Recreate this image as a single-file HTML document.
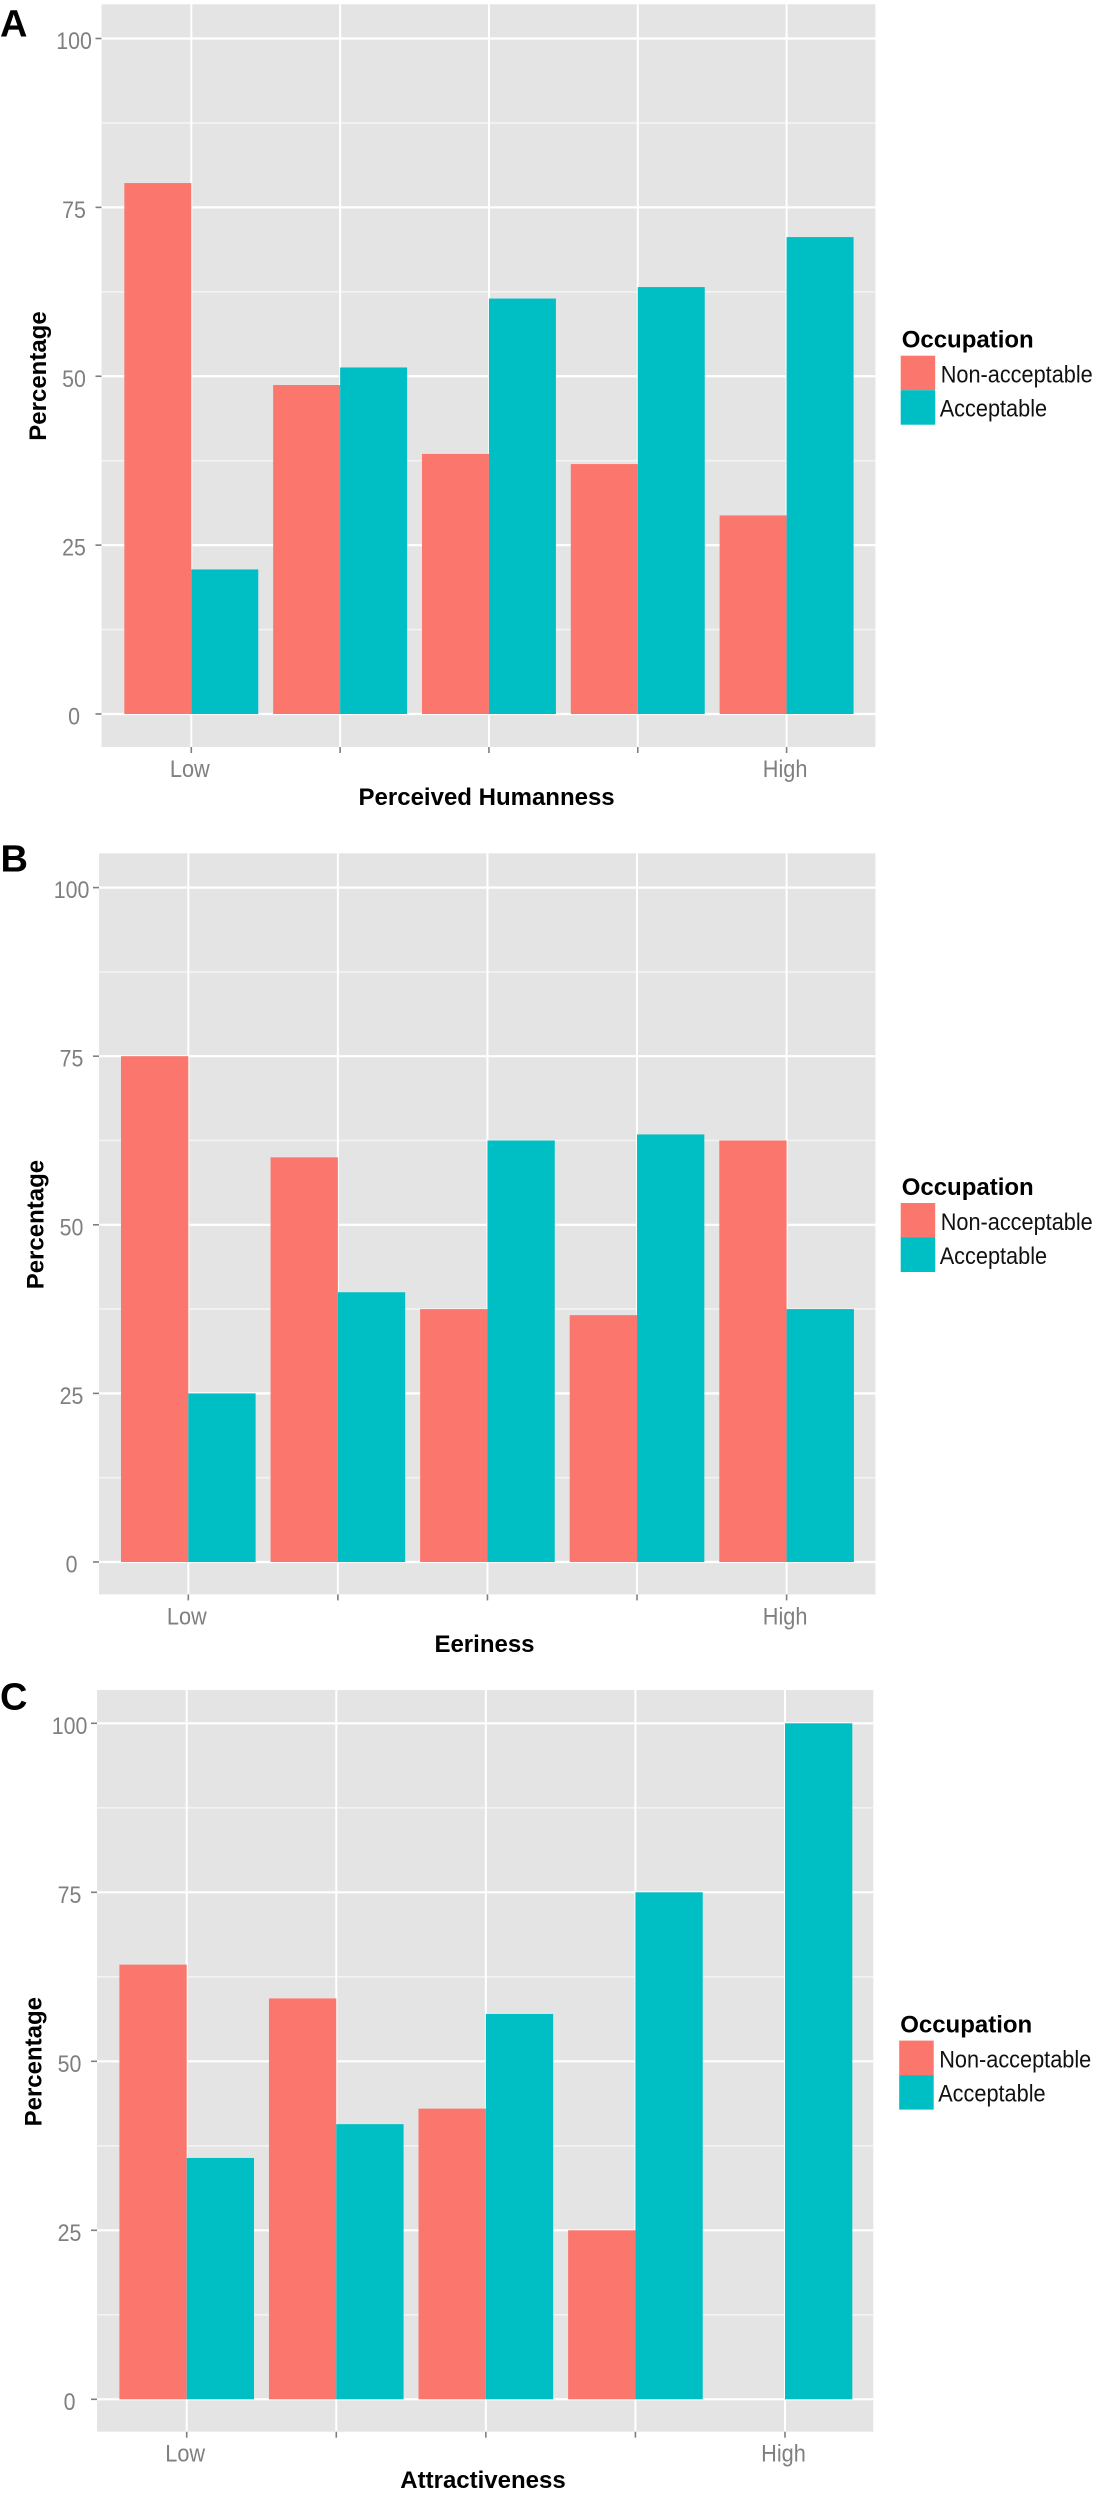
<!DOCTYPE html>
<html lang="en">
<head>
<meta charset="utf-8">
<title>Occupation acceptability charts</title>
<style>
html,body{margin:0;padding:0;background:#fff;}
#figure{display:block;width:1104px;height:2500px;font-family:"Liberation Sans",Arial,sans-serif;}
</style>
</head>
<body>
<svg id="figure" xmlns="http://www.w3.org/2000/svg" width="1104" height="2500" viewBox="0 0 1104 2500"></svg>
<script>
// ---- chart data ----
const categories = ["Low", "", "", "", "High"];
const yTickValues = [0, 25, 50, 75, 100];
const yMinorValues = [12.5, 37.5, 62.5, 87.5];
const legendLabels = ["Non-acceptable", "Acceptable"];

const humannessNonAcceptable = [78.6, 48.7, 38.5, 37.0, 29.4];
const humannessAcceptable = [21.4, 51.3, 61.5, 63.2, 70.6];

const eerinessNonAcceptable = [75.0, 60.0, 37.5, 36.6, 62.5];
const eerinessAcceptable = [25.0, 40.0, 62.5, 63.4, 37.5];

const attractivenessNonAcceptable = [64.3, 59.3, 43.0, 25.0, 0];
const attractivenessAcceptable = [35.7, 40.7, 57.0, 75.0, 100];

// ---- drawing ----
const SVG_NS = "http://www.w3.org/2000/svg";
const figure = document.getElementById("figure");
const RED = "#FB766D";
const TEAL = "#00BFC4";
const PANEL_BG = "#E4E4E4";
const TICK_COLOR = "#7F7F7F";

function addShape(parent, tag, attrs, name) {
  const el = document.createElementNS(SVG_NS, tag);
  for (const k in attrs) el.setAttribute(k, attrs[k]);
  
  
  parent.appendChild(el);
  return el;
}

function addText(parent, str, attrs, name) {
  const el = addShape(parent, "text", attrs, name);
  el.textContent = str;
  return el;
}

function drawPanel(p) {
  const g = document.createElementNS(SVG_NS, "g");
  
  
  figure.appendChild(g);

  const yScale = v => p.y0 + (p.y100 - p.y0) * v / 100;
  const xScale = i => p.xLow + (p.xHigh - p.xLow) * i / (categories.length - 1);
  const step = (p.xHigh - p.xLow) / (categories.length - 1);
  const barW = step * 0.45;

  addText(g, p.letter, {x: p.letterX, y: p.letterY, "font-size": 38, "font-weight": "bold", fill: "#000"}, p.id + "-panel-letter");

  addShape(g, "rect", {x: p.left, y: p.top, width: p.right - p.left, height: p.bottom - p.top, fill: PANEL_BG}, p.id + "-plot-background");

  yMinorValues.forEach(v => {
    addShape(g, "line", {x1: p.left, x2: p.right, y1: yScale(v), y2: yScale(v), stroke: "#F3F3F3", "stroke-width": 1.6}, p.id + "-minor-gridline");
  });
  yTickValues.forEach(v => {
    addShape(g, "line", {x1: p.left, x2: p.right, y1: yScale(v), y2: yScale(v), stroke: "#FFFFFF", "stroke-width": 2.2}, p.id + "-y-gridline");
    addShape(g, "line", {x1: p.left - 6, x2: p.left, y1: yScale(v), y2: yScale(v), stroke: TICK_COLOR, "stroke-width": 1.6}, p.id + "-y-tick");
    addText(g, String(v), {
      transform: "translate(" + (p.left - 27.5) + "," + (yScale(v) + 10.5) + ") scale(0.89,1)",
      "text-anchor": "middle", "font-size": 24, fill: TICK_COLOR
    }, p.id + "-y-tick-label");
  });
  categories.forEach((c, i) => {
    const x = xScale(i);
    addShape(g, "line", {x1: x, x2: x, y1: p.top, y2: p.bottom, stroke: "#FFFFFF", "stroke-width": 2}, p.id + "-x-gridline");
    addShape(g, "line", {x1: x, x2: x, y1: p.bottom, y2: p.bottom + 6, stroke: TICK_COLOR, "stroke-width": 1.6}, p.id + "-x-tick");
    if (c) {
      addText(g, c, {
        transform: "translate(" + (x - 1.5) + "," + (p.bottom + 30) + ") scale(0.905,1)",
        "text-anchor": "middle", "font-size": 24, fill: TICK_COLOR
      }, p.id + "-x-tick-label");
    }
  });

  categories.forEach((c, i) => {
    const x = xScale(i);
    const nv = p.nonAcceptable[i];
    const av = p.acceptable[i];
    if (nv > 0) {
      addShape(g, "rect", {x: x - barW, y: yScale(nv), width: barW, height: yScale(0) - yScale(nv), fill: RED}, p.id + "-bar-non-acceptable");
    }
    if (av > 0) {
      addShape(g, "rect", {x: x, y: yScale(av), width: barW, height: yScale(0) - yScale(av), fill: TEAL}, p.id + "-bar-acceptable");
    }
  });

  addText(g, p.xTitle, {x: p.xTitleX, y: p.xTitleY, "text-anchor": "middle", "font-size": 24, "font-weight": "bold", fill: "#000"}, p.id + "-x-axis-title");
  addText(g, "Percentage", {
    transform: "translate(" + p.yTitleX + "," + p.yTitleY + ") rotate(-90)",
    "text-anchor": "middle", "font-size": 24, "font-weight": "bold", fill: "#000"
  }, p.id + "-y-axis-title");

  // legend
  const lx = p.legendX, ly = p.legendY;
  addText(g, "Occupation", {x: lx + 1, y: ly - 8, "font-size": 24, "font-weight": "bold", fill: "#000"}, p.id + "-legend-title");
  addShape(g, "rect", {x: lx, y: ly, width: 34.5, height: 34.5, fill: RED}, p.id + "-legend-swatch-non-acceptable");
  addShape(g, "rect", {x: lx, y: ly + 34.5, width: 34.5, height: 34.5, fill: TEAL}, p.id + "-legend-swatch-acceptable");
  addText(g, legendLabels[0], {
    transform: "translate(" + (lx + 40) + "," + (ly + 27) + ") scale(0.905,1)",
    "font-size": 24, fill: "#111"
  }, p.id + "-legend-label-non-acceptable");
  addText(g, legendLabels[1], {
    transform: "translate(" + (lx + 39) + "," + (ly + 61) + ") scale(0.905,1)",
    "font-size": 24, fill: "#111"
  }, p.id + "-legend-label-acceptable");
}

drawPanel({
  id: "panel-a", letter: "A", letterX: 0, letterY: 36.7,
  left: 101.5, right: 875.4, top: 4.3, bottom: 747, y0: 714, y100: 38.5, xLow: 191.3, xHigh: 786.6,
  xTitle: "Perceived Humanness", xTitleX: 486.6, xTitleY: 805, yTitleX: 46, yTitleY: 376,
  legendX: 900.7, legendY: 355.7,
  nonAcceptable: humannessNonAcceptable, acceptable: humannessAcceptable
});
drawPanel({
  id: "panel-b", letter: "B", letterX: 0.5, letterY: 871.7,
  left: 99, right: 875.4, top: 853.3, bottom: 1594.4, y0: 1562, y100: 887.6, xLow: 188.3, xHigh: 786.6,
  xTitle: "Eeriness", xTitleX: 484.5, xTitleY: 1652, yTitleX: 43.4, yTitleY: 1224.6,
  legendX: 900.7, legendY: 1203,
  nonAcceptable: eerinessNonAcceptable, acceptable: eerinessAcceptable
});
drawPanel({
  id: "panel-c", letter: "C", letterX: 0, letterY: 1709.7,
  left: 97, right: 873.3, top: 1690, bottom: 2431.7, y0: 2399.3, y100: 1723.3, xLow: 186.7, xHigh: 785,
  xTitle: "Attractiveness", xTitleX: 483, xTitleY: 2488, yTitleX: 41.3, yTitleY: 2061.7,
  legendX: 899.2, legendY: 2040.6,
  nonAcceptable: attractivenessNonAcceptable, acceptable: attractivenessAcceptable
});
</script>
</body>
</html>
